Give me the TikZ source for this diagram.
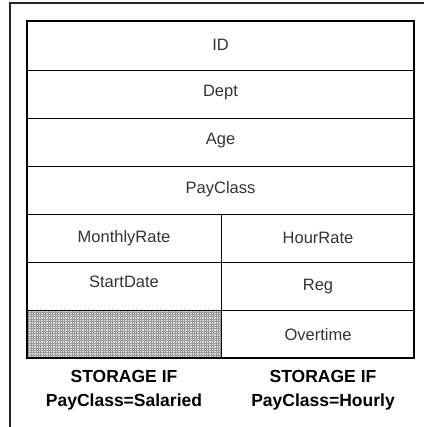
\documentclass[tikz,border=0pt]{standalone}
\usepackage{fontspec}
\setmainfont{Liberation Sans}
\begin{document}
\begin{tikzpicture}[x=1pt,y=-1pt,
  cell/.style={font=\fontsize{16.5}{20}\selectfont, text=black!80, anchor=center},
  caption/.style={font=\fontsize{17.5}{24}\selectfont\bfseries, text=black, align=center, anchor=center}]
\useasboundingbox (0,0) rectangle (424,427);
% page frame: top and left edges only
\draw[line width=1.2pt, black!85] (10,427) -- (10,3) -- (424,3);

% shaded unused slot
\fill[gray!25] (27,310) rectangle (221,358);
\begin{scope}
  \clip (27,310) rectangle (221,358);
  \draw[gray!80, line width=0.7pt, step=2.4pt] (27,310) grid (221,358);
\end{scope}

% inner rules
\draw[line width=0.9pt] (27,70) -- (414,70);
\draw[line width=0.9pt] (27,118) -- (414,118);
\draw[line width=0.9pt] (27,166) -- (414,166);
\draw[line width=0.9pt] (27,214) -- (414,214);
\draw[line width=0.9pt] (27,262) -- (414,262);
\draw[line width=0.9pt] (27,310) -- (414,310);
\draw[line width=0.9pt] (221,214) -- (221,358);
% outer border
\draw[line width=2pt] (27,21) rectangle (414,358);

% field names
\node[cell] (id) at (220.5,45) {ID};
\node[cell] (dept) at (220.5,93) {Dept};
\node[cell] (age) at (220.5,141) {Age};
\node[cell] (payclass) at (220.5,189) {PayClass};
\node[cell] (monthly) at (124,238) {MonthlyRate};
\node[cell] (hour) at (318,238) {HourRate};
\node[cell] (start) at (124,282) {StartDate};
\node[cell] (reg) at (318,287) {Reg};
\node[cell] (overtime) at (318,335) {Overtime};

% captions
\node[caption] (capS) at (124,390) {STORAGE IF\\PayClass=Salaried};
\node[caption] (capH) at (323,390) {STORAGE IF\\PayClass=Hourly};
\end{tikzpicture}
\end{document}
